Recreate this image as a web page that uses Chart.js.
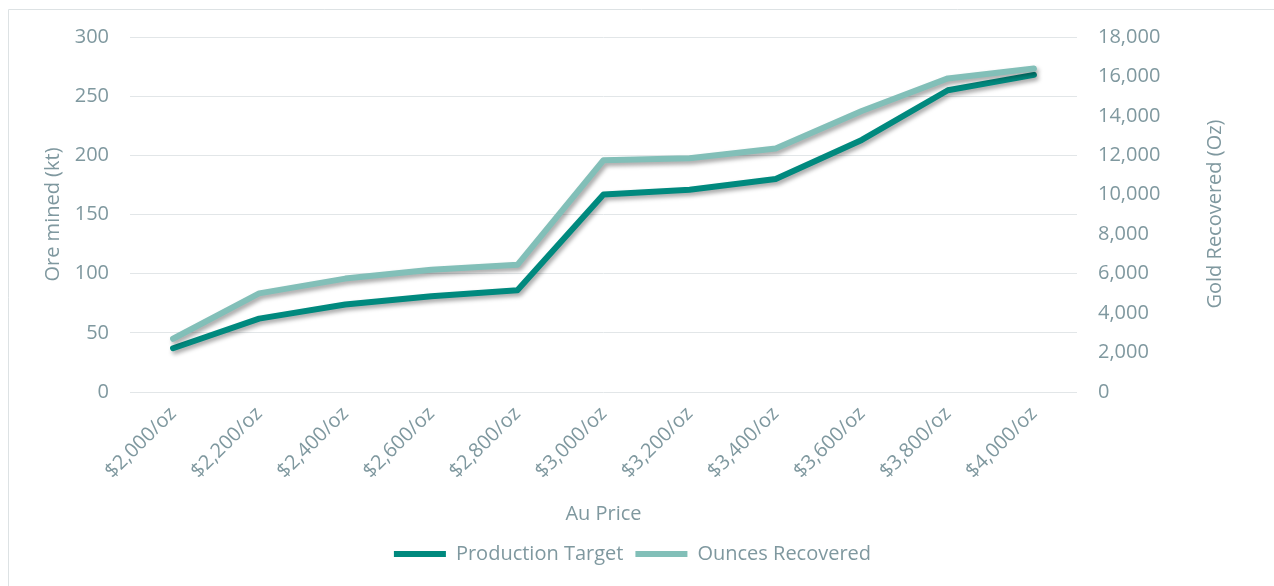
<!DOCTYPE html>
<html>
<head>
<meta charset="utf-8">
<script src="https://cdn.jsdelivr.net/npm/chart.js@4/dist/chart.umd.min.js"></script>
<style>
  html, body { margin: 0; padding: 0; background: #fff; }
  #wrap { position: relative; width: 1274px; height: 586px; }
</style>
</head>
<body>
<div id="wrap"><canvas id="goldChart" width="1274" height="586"></canvas></div>
<script>
// Data
var priceLabels = ['$2,000/oz', '$2,200/oz', '$2,400/oz', '$2,600/oz', '$2,800/oz', '$3,000/oz',
                   '$3,200/oz', '$3,400/oz', '$3,600/oz', '$3,800/oz', '$4,000/oz'];
var productionTarget = [37, 62, 74, 81, 86, 167, 171, 180, 213, 255, 268];
var ouncesRecovered = [2700, 5000, 5750, 6200, 6450, 11750, 11850, 12350, 14250, 15900, 16400];

var textColor = '#7f989f';
var gridColor = '#e2e6e8';
var fontFamily = "'Open Sans', sans-serif";
var fontSize = 20;

// soft shadow under each line, like the office chart
var lineShadow = {
    id: 'lineShadow',
    beforeDatasetDraw: function (chart) {
        var ctx = chart.ctx;
        ctx.save();
        ctx.shadowColor = 'rgba(0, 0, 0, 0.35)';
        ctx.shadowBlur = 4;
        ctx.shadowOffsetX = 2;
        ctx.shadowOffsetY = 3;
    },
    afterDatasetDraw: function (chart) {
        chart.ctx.restore();
    }
};

// outer frame + right axis title (reads bottom to top)
var extras = {
    id: 'extras',
    afterDraw: function (chart) {
        var ctx = chart.ctx;
        ctx.save();
        ctx.strokeStyle = '#dde2e4';
        ctx.lineWidth = 1;
        ctx.beginPath();
        ctx.moveTo(8.5, 586);
        ctx.lineTo(8.5, 9.5);
        ctx.lineTo(1274, 9.5);
        ctx.stroke();

        ctx.translate(1215, 214);
        ctx.rotate(-Math.PI / 2);
        ctx.fillStyle = textColor;
        ctx.font = fontSize + 'px ' + fontFamily;
        ctx.textAlign = 'center';
        ctx.textBaseline = 'middle';
        ctx.fillText('Gold Recovered (Oz)', 0, 0);
        ctx.restore();
    }
};

var ctx = document.getElementById('goldChart').getContext('2d');
var chart = new Chart(ctx, {
    type: 'line',
    data: {
        labels: priceLabels,
        datasets: [{
            label: 'Production Target',
            data: productionTarget,
            yAxisID: 'y',
            borderColor: '#00897e',
            backgroundColor: '#00897e',
            borderWidth: 6,
            borderCapStyle: 'round',
            borderJoinStyle: 'round',
            pointRadius: 0,
            pointStyle: 'line',
            tension: 0,
            order: 1
        }, {
            label: 'Ounces Recovered',
            data: ouncesRecovered,
            yAxisID: 'y1',
            borderColor: '#82bfb8',
            backgroundColor: '#82bfb8',
            borderWidth: 6,
            borderCapStyle: 'round',
            borderJoinStyle: 'round',
            pointRadius: 0,
            pointStyle: 'line',
            tension: 0,
            order: 0
        }]
    },
    options: {
        responsive: false,
        animation: false,
        layout: { padding: { left: 8, right: 17, top: 37, bottom: 12 } },
        plugins: {
            legend: {
                position: 'bottom',
                labels: {
                    usePointStyle: true,
                    pointStyleWidth: 52,
                    color: textColor,
                    font: { family: fontFamily, size: fontSize },
                    padding: 12,
                    sort: function (a, b) { return a.datasetIndex - b.datasetIndex; }
                }
            },
            tooltip: { enabled: false }
        },
        scales: {
            x: {
                offset: true,
                grid: { display: false },
                border: { display: false },
                ticks: {
                    color: textColor,
                    font: { family: fontFamily, size: fontSize },
                    minRotation: 45,
                    maxRotation: 45,
                    padding: 2
                },
                title: {
                    display: true,
                    text: 'Au Price',
                    color: textColor,
                    font: { family: fontFamily, size: fontSize },
                    padding: { top: 0, bottom: 6 }
                },
                afterFit: function (scale) { scale.height = 140; }
            },
            y: {
                position: 'left',
                min: 0,
                max: 300,
                ticks: {
                    stepSize: 50,
                    color: textColor,
                    font: { family: fontFamily, size: fontSize },
                    padding: 21
                },
                grid: { color: gridColor, lineWidth: 1, drawTicks: false },
                border: { display: false },
                title: {
                    display: true,
                    text: 'Ore mined (kt)',
                    color: textColor,
                    font: { family: fontFamily, size: fontSize },
                    padding: { top: 33, bottom: 0 }
                },
                afterFit: function (scale) { scale.width = 122; }
            },
            y1: {
                position: 'right',
                min: 0,
                max: 18000,
                ticks: {
                    stepSize: 2000,
                    color: textColor,
                    font: { family: fontFamily, size: fontSize },
                    padding: 21,
                    callback: function (v) { return v.toLocaleString('en-US'); }
                },
                grid: { display: false, drawTicks: false },
                border: { display: false },
                afterFit: function (scale) { scale.width = 180; }
            }
        }
    },
    plugins: [lineShadow, extras]
});
</script>
</body>
</html>
